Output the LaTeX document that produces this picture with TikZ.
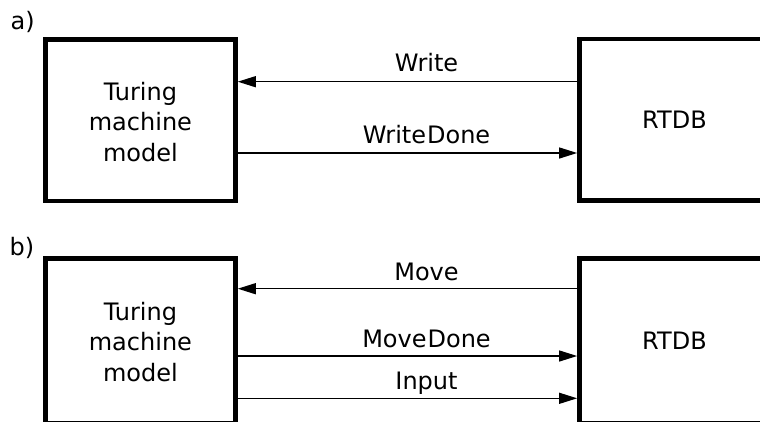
\documentclass[tikz,border=0pt]{standalone}
\usepackage{fontspec}
\setmainfont{DejaVu Sans}
\usetikzlibrary{arrows.meta}
\tikzset{
  blk/.style={draw, line width=4.5pt, minimum width=190.25pt, minimum height=161.5pt, inner sep=0pt},
  txt/.style={font=\fontsize{24}{30.5}\selectfont, align=center, inner sep=0pt},
  lbl/.style={font=\fontsize{24}{30.5}\selectfont, anchor=base, inner sep=0pt},
  msg/.style={line width=1.3pt, -{Triangle[length=18pt,width=11pt]}},
}
\begin{document}
\begin{tikzpicture}[x=1pt,y=-1pt]
\useasboundingbox (0,0) rectangle (760,421);
\clip (0,0) rectangle (760,421);
% part a
\node[lbl, anchor=base west] (la) at (10.5,29.5) {a)};
\node[blk] (tmA) at (140.4,120) {};
\node[txt, yshift=-2pt] (tmAt) at (tmA.center) {Turing\\machine\\model};
\node[blk, txt, line width=4.5pt] (rtdbA) at (674.5,119.75) {RTDB};
\draw[msg] (rtdbA.west |- 0,81.7) -- (tmA.east |- 0,81.7);
\draw[msg] (tmA.east |- 0,153) -- (rtdbA.west |- 0,153);
\node[lbl] (wr) at (426.5,71.7) {Write};
\node[lbl] (wd) at (426.5,143.3) {Write\kern1pt Done};
% part b
\node[lbl, anchor=base west] (lb) at (9.5,255) {b)};
\node[blk, minimum height=165pt] (tmB) at (140.4,340.75) {};
\node[txt, yshift=-1pt] (tmBt) at (tmB.center) {Turing\\machine\\model};
\node[blk, txt, line width=4.5pt, minimum height=165pt] (rtdbB) at (674.5,340.75) {RTDB};
\draw[msg] (rtdbB.west |- 0,288.7) -- (tmB.east |- 0,288.7);
\draw[msg] (tmB.east |- 0,356) -- (rtdbB.west |- 0,356);
\draw[msg] (tmB.east |- 0,398.3) -- (rtdbB.west |- 0,398.3);
\node[lbl] (mv) at (426.5,280) {Move};
\node[lbl] (md) at (426.5,347.3) {Move\kern1pt Done};
\node[lbl] (in) at (426.5,389.3) {Input};
\end{tikzpicture}
\end{document}
